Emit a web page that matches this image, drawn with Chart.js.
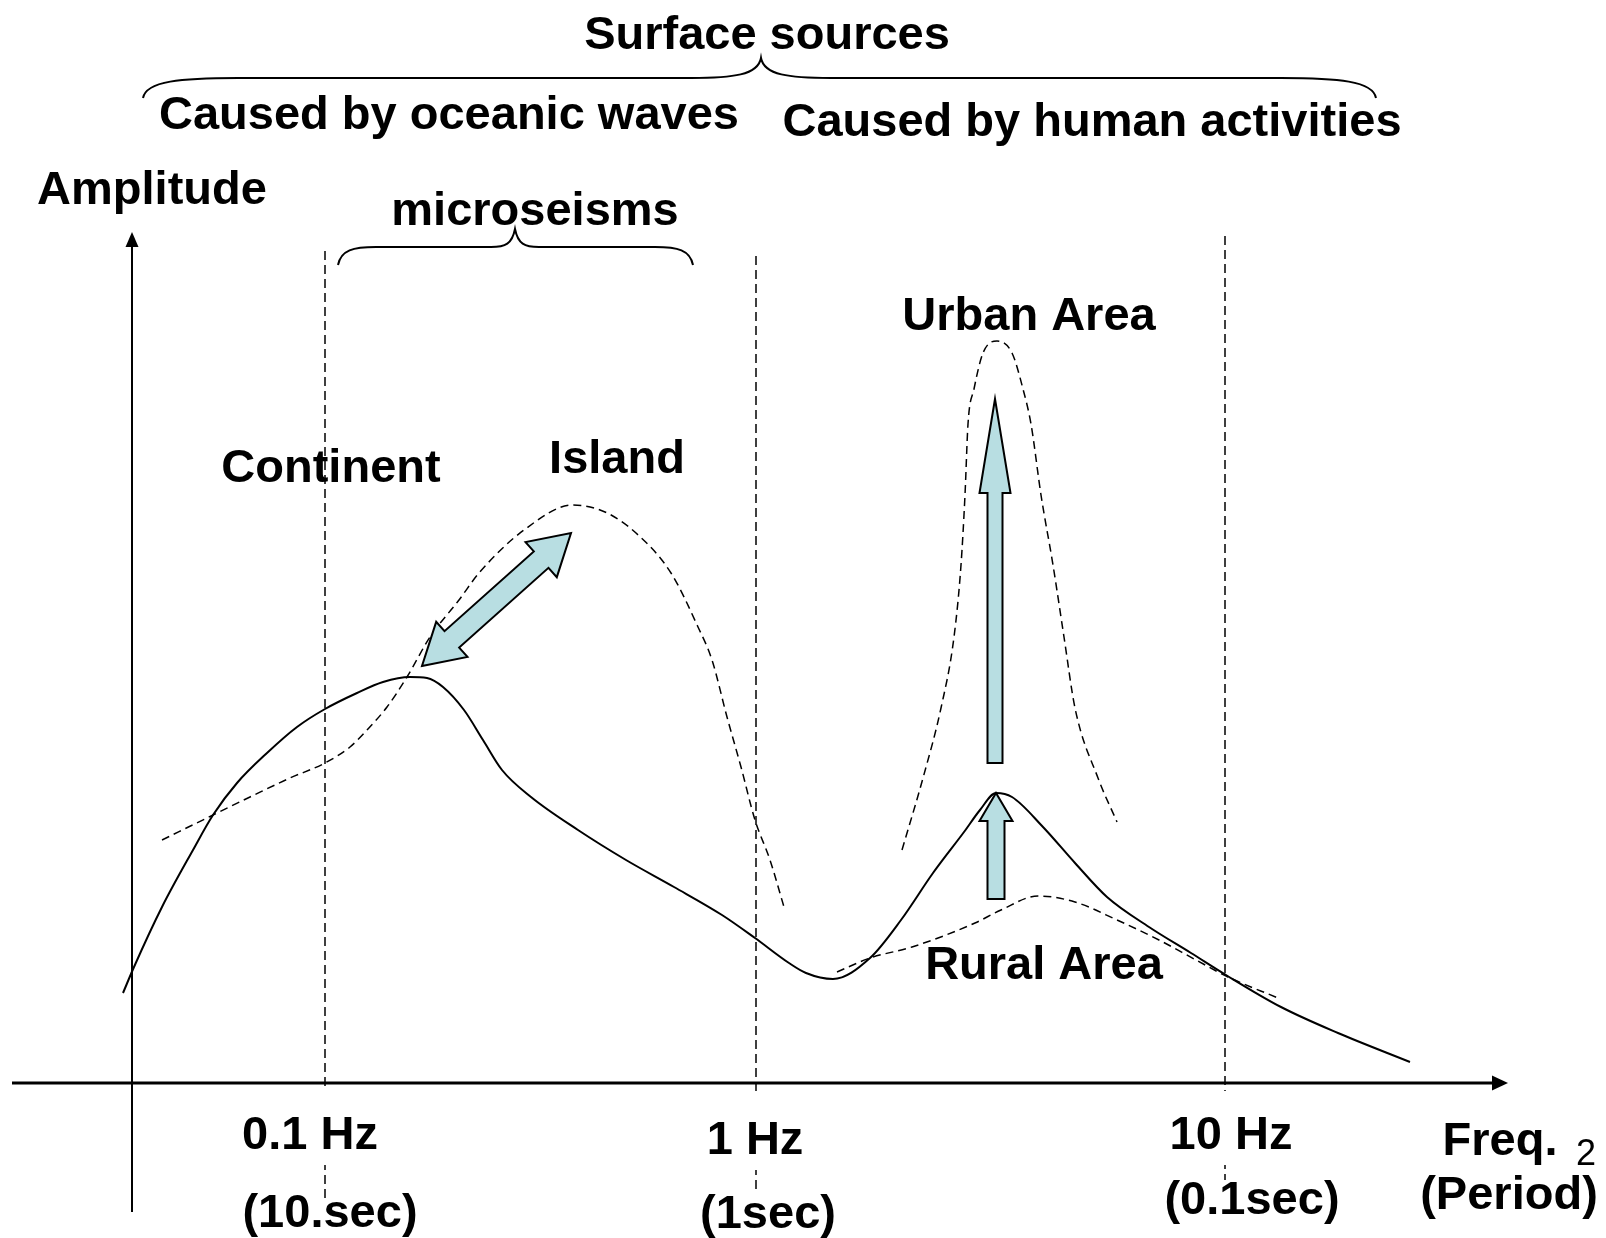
<!DOCTYPE html>
<html>
<head>
<meta charset="utf-8">
<title>Surface sources - microtremor spectrum</title>
<script src="https://cdn.jsdelivr.net/npm/chart.js@4.4.1/dist/chart.umd.min.js"></script>
<style>
  html, body { margin: 0; padding: 0; background: #fff; }
  canvas { display: block; }
</style>
</head>
<body>
<canvas id="spectrum-chart" width="1606" height="1238"></canvas>
<script>
// Schematic units: x = position along the frequency axis, y = amplitude.
// The amplitude axis sits at x = 0 and the frequency axis at y = 0.

// solid spectrum
const baseFreq = [-0.9, 0.2, 3.0, 6.1, 8.1, 10.5, 13.5, 16.5, 19.3, 22.5, 25.1, 27.8, 29.5, 31.1, 33.2, 35.1,
    37.0, 39.9, 44.6, 49.4, 54.2, 59.0, 62.3, 65.7, 67.4, 70.1, 73.8, 76.9, 80.1, 83.2, 84.8, 86.4,
    88.0, 91.1, 94.3, 97.5, 101.7, 105.9, 109.4, 114.9, 120.6, 127.8];
const baseAmp = [9.0, 11.6, 17.6, 23.3, 26.8, 30.0, 33.0, 35.6, 37.4, 39.0, 40.1, 40.6, 40.5, 39.6, 37.3, 34.3,
    31.3, 28.6, 25.3, 22.3, 19.6, 16.8, 14.5, 12.0, 11.0, 10.4, 12.5, 16.3, 21.0, 25.1, 27.3, 29.0,
    28.6, 25.6, 22.0, 18.6, 15.6, 13.0, 10.8, 7.6, 5.0, 2.1];

// continent -> island microseism curve (dashed)
const islandFreq = [3.0, 8.1, 11.8, 15.8, 19.3, 21.8, 23.5, 25.5, 27.5, 29.8, 32.7, 34.7, 39.2, 44.1, 47.3,
    50.4, 53.9, 56.6, 58.0, 59.5, 60.9, 62.3, 63.8, 65.2];
const islandAmp = [24.3, 26.8, 28.6, 30.5, 32.0, 33.6, 35.3, 37.6, 40.6, 44.6, 48.3, 51.0, 55.3, 57.8, 57.1,
    55.0, 51.0, 45.6, 42.3, 36.6, 31.6, 26.3, 22.3, 17.6];

// urban area peak (dashed)
const urbanFreq = [77.0, 79.1, 80.9, 82.2, 82.9, 83.3, 83.6, 84.2, 85.1, 86.5, 88.0, 89.1, 89.9, 90.9, 92.1,
    93.2, 94.3, 96.6, 98.5];
const urbanAmp = [23.3, 30.5, 37.5, 44.6, 51.8, 58.8, 65.9, 69.4, 73.0, 74.2, 73.0, 69.4, 65.9, 58.8, 51.8,
    44.6, 37.5, 30.5, 26.1];

// rural area (dashed)
const ruralFreq = [70.5, 73.8, 78.0, 84.3, 86.9, 90.6, 94.3, 98.5, 102.7, 106.4, 109.6, 114.6];
const ruralAmp = [11.1, 12.5, 13.6, 16.0, 17.3, 18.7, 18.1, 16.3, 14.3, 12.3, 10.6, 8.5];

// frequency marks
const freqTickPos = [19.3, 62.4, 109.3];
const freqLabels = ['0.1 Hz', '1 Hz', '10 Hz'];
const periodLabels = ['(10.sec)', '(1sec)', '(0.1sec)'];
const markTop = [83.2, 82.7, 84.7];
const markBottom = [-12.0, -10.7, -9.7];

// view window
const X_MIN = -13.2, X_MAX = 147.4, Y_MIN = -15.5, Y_MAX = 108.3;

const FONT = '"Liberation Sans", Arial, Helvetica, sans-serif';
const ARROW_FILL = '#b8dee2';

// text placement (x centre, baseline) in chart units
const freqLabelPlace = [[17.8, -6.6], [62.3, -7.1], [109.9, -6.6]];
const periodLabelPlace = [[19.8, -14.4], [63.6, -14.5], [112.0, -13.1]];
const textLabels = [
    { text: 'Surface sources', x: 63.5, y: 103.4 },
    { text: 'Caused by oceanic waves', x: 31.7, y: 95.4 },
    { text: 'Caused by human activities', x: 96.0, y: 94.7 },
    { text: 'Amplitude', x: 2.0, y: 87.9 },
    { text: 'microseisms', x: 40.3, y: 85.8 },
    { text: 'Urban Area', x: 89.7, y: 75.3 },
    { text: 'Continent', x: 19.9, y: 60.1 },
    { text: 'Island', x: 48.5, y: 61.0 },
    { text: 'Rural Area', x: 91.2, y: 10.4 },
    { text: 'Freq.', x: 136.8, y: -7.2 },
    { text: '(Period)', x: 137.7, y: -12.6 }
];

// braces: left, tip, right, end level, flat level, tip level, curl width, tip width (px)
const braces = [
    [1.1, 62.9, 124.4, 98.5, 100.5, 102.5, 95, 70],
    [20.6, 38.3, 56.1, 81.8, 83.6, 85.4, 38, 24]
];

// block arrows: from, to, shaft, head width, head length (px), double
const blockArrows = [
    { from: [29.0, 41.7], to: [43.9, 55.0], shaft: 22, headW: 47, headL: 40, both: true },
    { from: [86.3, 32.0], to: [86.3, 68.4], shaft: 15, headW: 31, headL: 94, both: false },
    { from: [86.4, 18.4], to: [86.4, 29.0], shaft: 17, headW: 33, headL: 28, both: false }
];

function toPoints(xs, ys) {
    return xs.map((v, i) => ({ x: v, y: ys[i] }));
}

function drawBlockArrow(ctx, x0, y0, x1, y1, shaft, headW, headL, both) {
    const len = Math.hypot(x1 - x0, y1 - y0);
    const ux = (x1 - x0) / len, uy = (y1 - y0) / len;
    const nx = -uy, ny = ux;
    const P = (a, b) => [x0 + ux * a + nx * b, y0 + uy * a + ny * b];
    const s = shaft / 2, h = headW / 2;
    let pts;
    if (both) {
        pts = [P(0, 0), P(headL, h), P(headL, s), P(len - headL, s), P(len - headL, h), P(len, 0),
            P(len - headL, -h), P(len - headL, -s), P(headL, -s), P(headL, -h)];
    } else {
        pts = [P(0, s), P(len - headL, s), P(len - headL, h), P(len, 0), P(len - headL, -h),
            P(len - headL, -s), P(0, -s)];
    }
    ctx.beginPath();
    ctx.moveTo(pts[0][0], pts[0][1]);
    pts.slice(1).forEach(p => ctx.lineTo(p[0], p[1]));
    ctx.closePath();
    ctx.fillStyle = ARROW_FILL;
    ctx.fill();
    ctx.lineWidth = 2;
    ctx.strokeStyle = '#000';
    ctx.lineJoin = 'miter';
    ctx.stroke();
}

function drawBrace(ctx, xl, xm, xr, yEnd, yFlat, yTip, curl, tipW) {
    ctx.beginPath();
    ctx.moveTo(xl, yEnd);
    ctx.bezierCurveTo(xl + 3, yFlat + 3, xl + curl * 0.4, yFlat, xl + curl, yFlat);
    ctx.lineTo(xm - tipW, yFlat);
    ctx.bezierCurveTo(xm - tipW * 0.4, yFlat, xm - 3, yFlat - 3, xm, yTip);
    ctx.bezierCurveTo(xm + 3, yFlat - 3, xm + tipW * 0.4, yFlat, xm + tipW, yFlat);
    ctx.lineTo(xr - curl, yFlat);
    ctx.bezierCurveTo(xr - curl * 0.4, yFlat, xr - 3, yFlat + 3, xr, yEnd);
    ctx.lineWidth = 2;
    ctx.strokeStyle = '#000';
    ctx.stroke();
}

function drawHead(ctx, tx, ty, dx, dy, len, w) {
    ctx.beginPath();
    ctx.moveTo(tx, ty);
    ctx.lineTo(tx - dx * len - dy * w / 2, ty - dy * len + dx * w / 2);
    ctx.lineTo(tx - dx * len + dy * w / 2, ty - dy * len - dx * w / 2);
    ctx.closePath();
    ctx.fillStyle = '#000';
    ctx.fill();
}

const diagramPlugin = {
    id: 'diagram',
    afterDatasetsDraw(chart) {
        const { ctx, scales: { x, y } } = chart;
        const px = v => x.getPixelForValue(v);
        const py = v => y.getPixelForValue(v);
        ctx.save();
        ctx.setLineDash([]);

        // amplitude axis
        ctx.strokeStyle = '#000';
        ctx.lineWidth = 2;
        ctx.beginPath();
        ctx.moveTo(px(0), py(-12.9));
        ctx.lineTo(px(0), py(83.8));
        ctx.stroke();
        drawHead(ctx, px(0), py(85.1), 0, -1, 15, 13);

        // frequency axis
        ctx.lineWidth = 3;
        ctx.beginPath();
        ctx.moveTo(px(-12.0), py(0));
        ctx.lineTo(px(136.3), py(0));
        ctx.stroke();
        drawHead(ctx, px(137.6), py(0), 1, 0, 16, 15);

        // block arrows
        blockArrows.forEach(a => {
            drawBlockArrow(ctx, px(a.from[0]), py(a.from[1]), px(a.to[0]), py(a.to[1]),
                a.shaft, a.headW, a.headL, a.both);
        });

        // braces
        braces.forEach(b => {
            drawBrace(ctx, px(b[0]), px(b[1]), px(b[2]), py(b[3]), py(b[4]), py(b[5]), b[6], b[7]);
        });

        // labels
        ctx.textAlign = 'center';
        ctx.textBaseline = 'alphabetic';
        ctx.font = 'bold 47px ' + FONT;
        freqLabels.forEach((t, i) => {
            const cx = px(freqLabelPlace[i][0]), by = py(freqLabelPlace[i][1]);
            const w = ctx.measureText(t).width;
            ctx.fillStyle = '#fff';
            ctx.fillRect(cx - w / 2 - 6, by - 58, w + 12, 74);
            ctx.fillStyle = '#000';
            ctx.fillText(t, cx, by);
        });
        periodLabels.forEach((t, i) => {
            ctx.fillText(t, px(periodLabelPlace[i][0]), py(periodLabelPlace[i][1]));
        });
        textLabels.forEach(l => {
            ctx.fillText(l.text, px(l.x), py(l.y));
        });
        // slide number next to the axis title
        ctx.font = '36px ' + FONT;
        ctx.fillText('2', px(145.4), py(-8.2));
        ctx.restore();
    }
};

const markSets = freqTickPos.map((v, i) => ({
    data: [{ x: v, y: markTop[i] }, { x: v, y: markBottom[i] }],
    borderColor: '#000',
    borderWidth: 1.5,
    borderDash: [9, 5],
    tension: 0
}));

const curveStyle = {
    borderColor: '#000',
    cubicInterpolationMode: 'monotone'
};

const ctx = document.getElementById('spectrum-chart').getContext('2d');
new Chart(ctx, {
    type: 'line',
    data: {
        datasets: [
            ...markSets,
            {
                ...curveStyle,
                label: 'Spectrum',
                data: toPoints(baseFreq, baseAmp),
                borderWidth: 2
            },
            {
                ...curveStyle,
                label: 'Continent / Island',
                data: toPoints(islandFreq, islandAmp),
                borderWidth: 1.5,
                borderDash: [8, 5]
            },
            {
                ...curveStyle,
                label: 'Urban Area',
                data: toPoints(urbanFreq, urbanAmp),
                borderWidth: 1.5,
                borderDash: [8, 5]
            },
            {
                ...curveStyle,
                label: 'Rural Area',
                data: toPoints(ruralFreq, ruralAmp),
                borderWidth: 1.5,
                borderDash: [8, 5]
            }
        ]
    },
    options: {
        responsive: false,
        animation: false,
        devicePixelRatio: 1,
        layout: { padding: 0 },
        clip: false,
        elements: { point: { radius: 0, hoverRadius: 0 } },
        plugins: {
            legend: { display: false },
            tooltip: { enabled: false }
        },
        scales: {
            x: { type: 'linear', min: X_MIN, max: X_MAX, display: false },
            y: { type: 'linear', min: Y_MIN, max: Y_MAX, display: false }
        }
    },
    plugins: [diagramPlugin]
});
</script>
</body>
</html>
